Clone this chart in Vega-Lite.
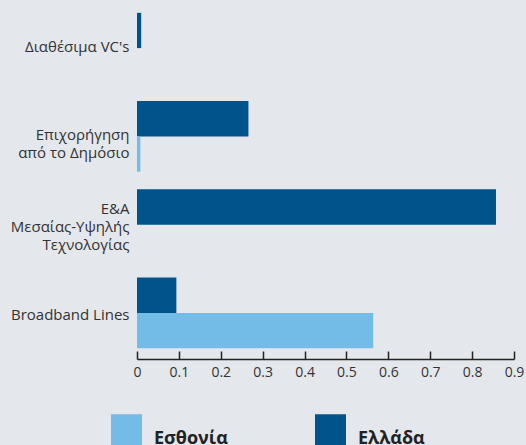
{
  "$schema": "https://vega.github.io/schema/vega-lite/v6.json",
  "width": 377,
  "height": 353,
  "autosize": "none",
  "padding": {"left": 137, "top": 4, "right": 12, "bottom": 88},
  "background": "#E4E7EC",
  "config": {"view": {"stroke": null}, "font": "Open Sans"},
  "data": {
    "values": [
      {"cat": "Διαθέσιμα VC's", "country": "Ελλάδα", "value": 0.010},
      {"cat": "Διαθέσιμα VC's", "country": "Εσθονία", "value": 0.0},
      {"cat": "Επιχορήγηση|από το Δημόσιο", "country": "Ελλάδα", "value": 0.266},
      {"cat": "Επιχορήγηση|από το Δημόσιο", "country": "Εσθονία", "value": 0.008},
      {"cat": "Ε&Α|Μεσαίας-Υψηλής|Τεχνολογίας", "country": "Ελλάδα", "value": 0.857},
      {"cat": "Ε&Α|Μεσαίας-Υψηλής|Τεχνολογίας", "country": "Εσθονία", "value": 0.0},
      {"cat": "Broadband Lines", "country": "Ελλάδα", "value": 0.094},
      {"cat": "Broadband Lines", "country": "Εσθονία", "value": 0.564}
    ]
  },
  "mark": {"type": "bar"},
  "encoding": {
    "y": {
      "field": "cat",
      "type": "nominal",
      "sort": null,
      "title": null,
      "scale": {"paddingInner": 0.2, "paddingOuter": 0.1},
      "axis": {
        "domain": false,
        "ticks": false,
        "labelPadding": 8,
        "labelExpr": "split(datum.label, '|')",
        "labelFontSize": 15,
        "labelColor": "#333333",
        "labelLineHeight": 18,
        "labelLimit": 200,
        "labelOffset": {
          "condition": [
            {"test": "indexof(datum.value, 'Ε&Α') >= 0", "value": -16},
            {"test": "indexof(datum.value, 'Broadband') >= 0", "value": 2}
          ],
          "value": -1
        }
      }
    },
    "yOffset": {
      "field": "country",
      "type": "nominal",
      "sort": ["Ελλάδα", "Εσθονία"],
      "scale": {"paddingInner": 0, "paddingOuter": 0}
    },
    "x": {
      "field": "value",
      "type": "quantitative",
      "title": null,
      "scale": {"domain": [0, 0.9], "nice": false},
      "axis": {
        "values": [0, 0.1, 0.2, 0.3, 0.4, 0.5, 0.6, 0.7, 0.8, 0.9],
        "format": ".1~f",
        "grid": false,
        "domainColor": "#222222",
        "domainWidth": 1.5,
        "tickColor": "#222222",
        "tickWidth": 1.5,
        "tickSize": -8,
        "offset": 2,
        "labelPadding": 14,
        "labelFontSize": 14,
        "labelColor": "#333333",
        "labelFlush": false
      }
    },
    "color": {
      "field": "country",
      "type": "nominal",
      "scale": {"domain": ["Εσθονία", "Ελλάδα"], "range": ["#74BCE8", "#00548C"]},
      "legend": {
        "title": null,
        "orient": "none",
        "legendX": -26,
        "legendY": 410,
        "direction": "horizontal",
        "symbolType": "square",
        "symbolSize": 961,
        "symbolStrokeWidth": 0,
        "labelFontSize": 18,
        "labelFontWeight": "bold",
        "labelColor": "#222222",
        "labelOffset": 12,
        "columnPadding": 87,
        "labelBaseline": "top"
      }
    }
  }
}
